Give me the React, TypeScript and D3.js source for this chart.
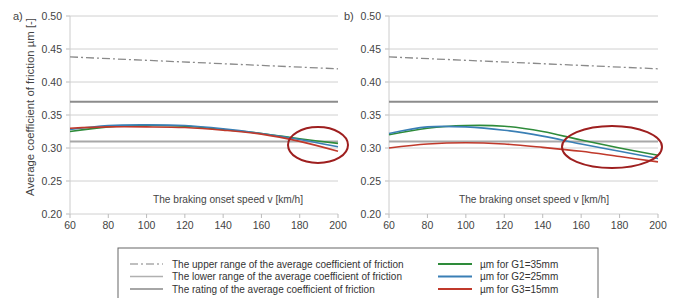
import React from 'react';
import {scaleLinear,line,curveCatmullRom} from 'd3';

// speeds [km/h]
const speeds=[60,80,100,120,140,160,180,200];
const yTicks=[0.2,0.25,0.3,0.35,0.4,0.45,0.5];
const xTicks=[60,80,100,120,140,160,180,200];

// reference lines
const upperRange=[0.438,0.420];
const lowerRange=0.31;
const rating=0.37;

// panel a)
const aG1=[0.325,0.332,0.334,0.333,0.328,0.322,0.314,0.307];
const aG2=[0.328,0.334,0.335,0.334,0.329,0.322,0.313,0.302];
const aG3=[0.330,0.332,0.332,0.331,0.327,0.321,0.310,0.295];
// panel b)
const bG1=[0.320,0.330,0.334,0.333,0.325,0.312,0.300,0.289];
const bG2=[0.322,0.332,0.332,0.327,0.318,0.306,0.295,0.284];
const bG3=[0.300,0.306,0.308,0.306,0.301,0.295,0.287,0.279];

const seriesColors=['#2e8b3a','#3a7fb5','#c0392b'];
const font="'Liberation Sans', Arial, sans-serif";

type PanelProps={left:number,right:number,label:string,labelX:number,xTitleX:number,series:number[][],ellipse:{cx:number,cy:number,rx:number,ry:number},showTitle:boolean};

const Panel=({left,right,label,labelX,xTitleX,series,ellipse,showTitle}:PanelProps)=>{
  const x=scaleLinear().domain([60,200]).range([left,right]);
  const y=scaleLinear().domain([0.2,0.5]).range([214,16]);
  const path=line<number>().x((d,i)=>x(speeds[i])).y(d=>y(d)).curve(curveCatmullRom);
  return (
    <g fontFamily={font} fill="#444">
      {yTicks.map(t=>(
        <g key={t}>
          <line x1={left} x2={right} y1={y(t)} y2={y(t)} stroke="#d0d0d0" strokeWidth={1}/>
          <line x1={left-4} x2={left} y1={y(t)} y2={y(t)} stroke="#bbb"/>
          <text x={left-8} y={y(t)+3.5} fontSize={10.5} textAnchor="end">{t.toFixed(2)}</text>
        </g>
      ))}
      <line x1={left} x2={left} y1={y(0.5)} y2={y(0.2)} stroke="#ccc"/>
      {xTicks.map(t=>(
        <g key={t}>
          <line x1={x(t)} x2={x(t)} y1={y(0.2)} y2={y(0.2)+4} stroke="#bbb"/>
          <text x={x(t)} y={229} fontSize={10.5} textAnchor="middle">{t}</text>
        </g>
      ))}
      <line x1={x(60)} x2={x(200)} y1={y(upperRange[0])} y2={y(upperRange[1])} stroke="#8a8a8a" strokeWidth={1.3} strokeDasharray="8,3,2,3"/>
      <line x1={x(60)} x2={x(200)} y1={y(rating)} y2={y(rating)} stroke="#8c8c8c" strokeWidth={2}/>
      <line x1={x(60)} x2={x(200)} y1={y(lowerRange)} y2={y(lowerRange)} stroke="#a8a8a8" strokeWidth={2}/>
      {series.map((s,i)=>(
        <path key={i} d={path(s)||''} fill="none" stroke={seriesColors[i]} strokeWidth={1.6}/>
      ))}
      <ellipse cx={ellipse.cx} cy={ellipse.cy} rx={ellipse.rx} ry={ellipse.ry} fill="none" stroke="#9e1f1f" strokeWidth={2}/>
      <text x={xTitleX} y={203} fontSize={10.5} textAnchor="middle" textLength={150} lengthAdjust="spacingAndGlyphs">The braking onset speed v [km/h]</text>
      <text x={labelX} y={20} fontSize={11}>{label}</text>
      {showTitle&&(
        <text transform={`translate(34,107) rotate(-90)`} fontSize={11} textAnchor="middle" textLength={178} lengthAdjust="spacingAndGlyphs">Average coefficient of friction µm [-]</text>
      )}
    </g>
  );
};

const legendLeft=[
  {label:'The upper range of the average coefficient of friction',color:'#aaa',dash:'8,3,2,3'},
  {label:'The lower range of the average coefficient of friction',color:'#b0b0b0',dash:''},
  {label:'The rating of the average coefficient of friction',color:'#888',dash:''},
];
const legendRight=['µm for G1=35mm','µm for G2=25mm','µm for G3=15mm'];

export default function App(){
  return (
    <svg width={680} height={298} style={{position:'absolute',left:0,top:0,background:'#fff'}}>
      <Panel left={70} right={338} label="a)" labelX={13} xTitleX={228} series={[aG1,aG2,aG3]} ellipse={{cx:318,cy:145,rx:30,ry:18}} showTitle={true}/>
      <Panel left={389} right={658} label="b)" labelX={344} xTitleX={534} series={[bG1,bG2,bG3]} ellipse={{cx:612,cy:147,rx:50,ry:21}} showTitle={false}/>
      <g fontFamily={font} fill="#333" fontSize={10}>
        <rect x={118} y={248} width={480} height={60} fill="none" stroke="#666" strokeWidth={1}/>
        {legendLeft.map((d,i)=>(
          <g key={i}>
            <line x1={130} x2={163} y1={264+i*12.5} y2={264+i*12.5} stroke={d.color} strokeWidth={1.5} strokeDasharray={d.dash}/>
            <text x={172} y={267.5+i*12.5}>{d.label}</text>
          </g>
        ))}
        {legendRight.map((d,i)=>(
          <g key={i}>
            <line x1={438} x2={472} y1={264+i*12.5} y2={264+i*12.5} stroke={seriesColors[i]} strokeWidth={2}/>
            <text x={480} y={267.5+i*12.5}>{d}</text>
          </g>
        ))}
      </g>
    </svg>
  );
}
